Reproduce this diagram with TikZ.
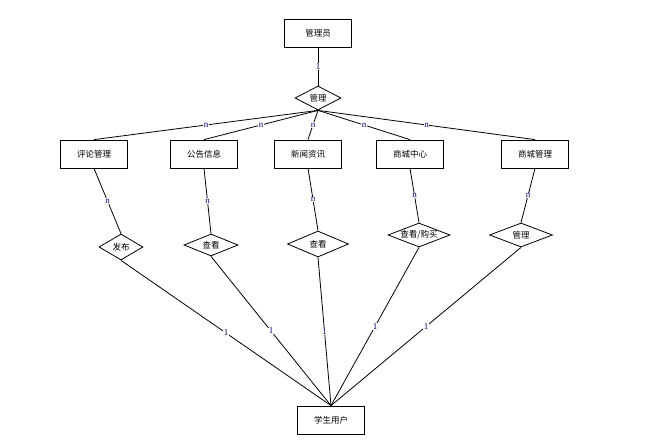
\documentclass[tikz,border=0pt]{standalone}
\usepackage{fontspec}
\newfontfamily\cjk{Noto Sans CJK SC}
\newfontfamily\cardfont{Liberation Serif}
\usetikzlibrary{shapes.geometric,shadows}

\begin{document}
\begin{tikzpicture}[x=1pt, y=-1pt,
  entity/.style={draw=black, fill=white, minimum width=67pt, minimum height=28pt,
                 line width=0.8pt, inner sep=0pt, font=\cjk\fontsize{8.5}{10}\selectfont,
                 drop shadow={shadow xshift=0.6pt, shadow yshift=-1.2pt, fill=black!45, opacity=1}},
  rel/.style={diamond, draw=black, fill=white, line width=0.8pt, inner sep=0pt},
  relname/.style={font=\cjk\fontsize{8.5}{10}\selectfont, inner sep=0pt},
  link/.style={draw=black, line width=0.8pt},
  card/.style={font=\cardfont\fontsize{9}{10}\selectfont, text=blue!40!black, fill=white, inner sep=0.5pt}
]
\useasboundingbox (0,0) rectangle (653,447);
% entities
\node[entity] (admin) at (318,33) {管理员};
\node[entity] (comment) at (94,154) {评论管理};
\node[entity] (notice) at (204,154) {公告信息};
\node[entity] (news) at (308,154) {新闻资讯};
\node[entity] (shop) at (410,154) {商城中心};
\node[entity] (shopadmin) at (535,154) {商城管理};
\node[entity] (student) at (331,420) {学生用户};
% relations
\node[rel, minimum width=46pt, minimum height=24pt, label={[relname]center:管理}] (manage) at (318,98) {};
\node[rel, minimum width=44pt, minimum height=26pt, label={[relname]center:发布}] (publish) at (121,247) {};
\node[rel, minimum width=54pt, minimum height=22pt, label={[relname]center:查看}] (viewa) at (211,245) {};
\node[rel, minimum width=61pt, minimum height=26pt, label={[relname]center:查看}] (viewb) at (318,244) {};
\node[rel, minimum width=62pt, minimum height=24pt, label={[relname]center:查看/购买}] (buy) at (419,235) {};
\node[rel, minimum width=63pt, minimum height=24pt, label={[relname]center:管理}] (manageb) at (521,235) {};
% connectors
\draw[link] (admin) -- node[card] {1} (manage);
\foreach \e in {comment,notice,news,shop,shopadmin}
  \draw[link] (manage.south) -- node[card] {n} (\e.north);
\draw[link] (comment.south) -- node[card] {n} (publish.north);
\draw[link] (notice.south) -- node[card] {n} (viewa.north);
\draw[link] (news.south) -- node[card] {n} (viewb.north);
\draw[link] (shop.south) -- node[card] {n} (buy.north);
\draw[link] (shopadmin.south) -- node[card] {n} (manageb.north);
\foreach \r in {publish,viewa,viewb,buy,manageb}
  \draw[link] (\r.south) -- node[card] {1} (student.north);
\end{tikzpicture}
\end{document}
